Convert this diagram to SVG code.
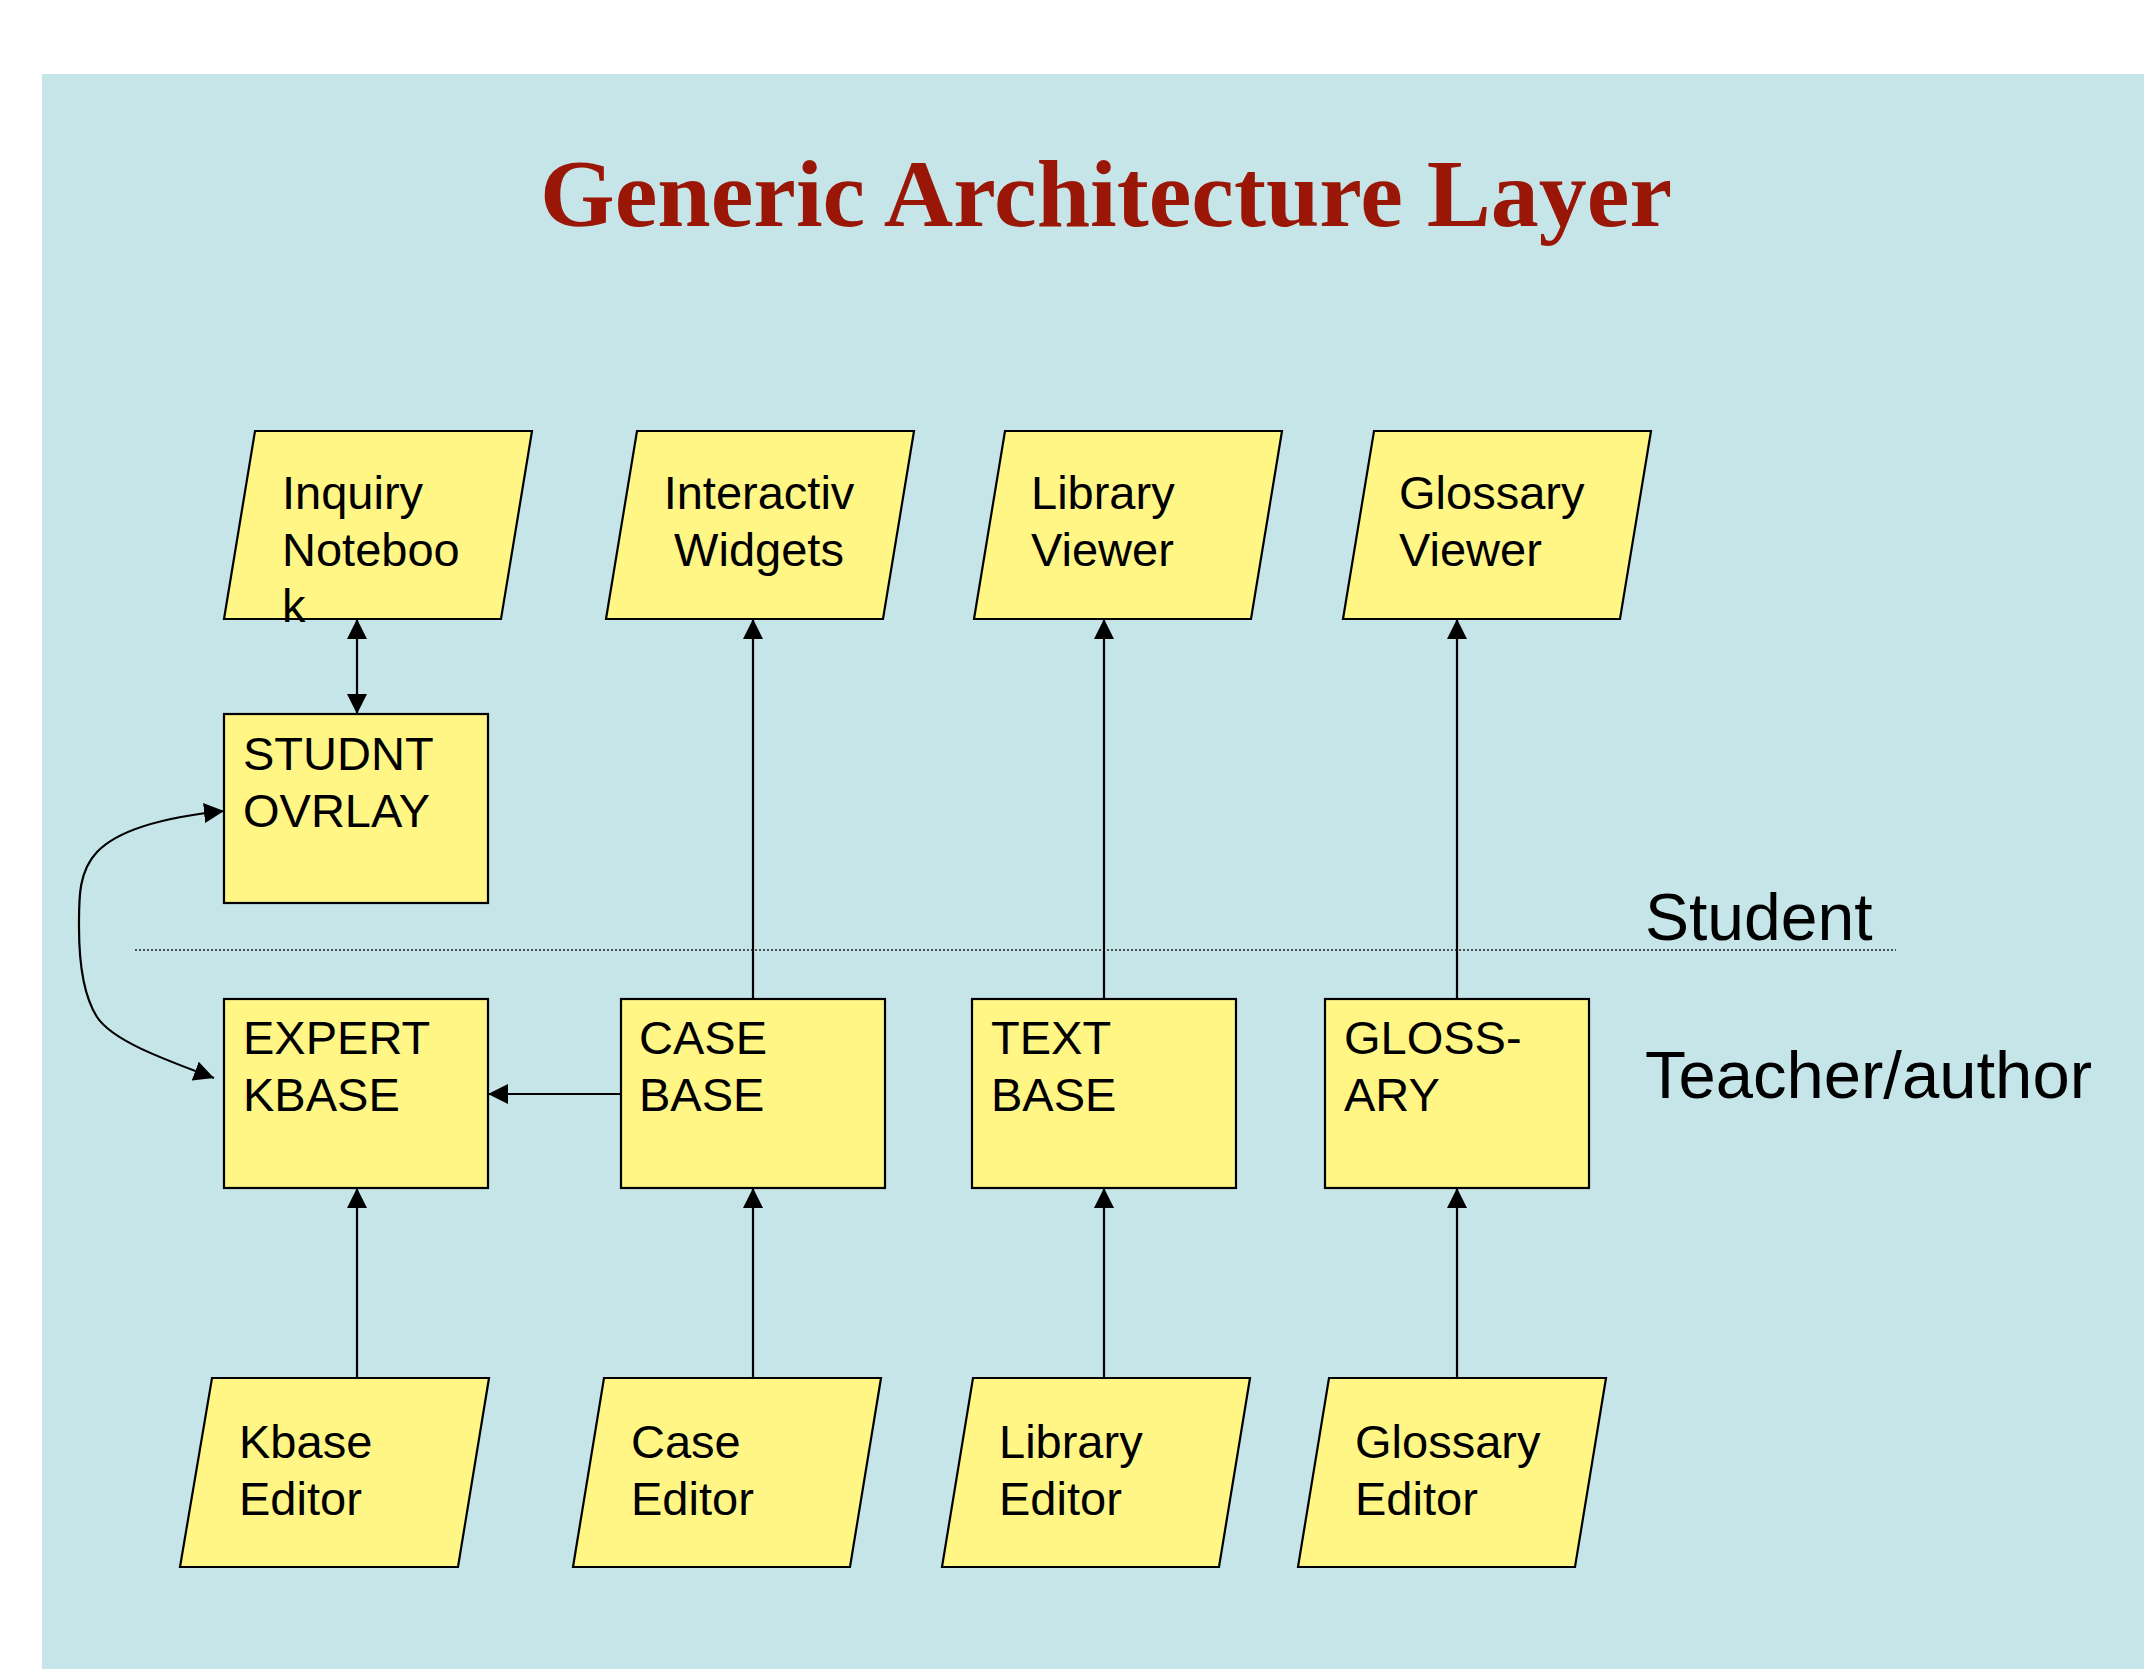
<svg xmlns="http://www.w3.org/2000/svg" width="2144" height="1669" viewBox="0 0 2144 1669">
<defs>
<style>
.node{fill:#FFF685;stroke:#000;stroke-width:2.2}
.t{font-family:"Liberation Sans",Arial,sans-serif;font-size:47px;fill:#000}
.lbl{font-family:"Liberation Sans",Arial,sans-serif;font-size:66px;fill:#000}
.lbl2{font-family:"Liberation Sans",Arial,sans-serif;font-size:67px;fill:#000}
.c{fill:none;stroke:#000;stroke-width:2.2}
</style>
<marker id="ah" markerUnits="userSpaceOnUse" markerWidth="20" markerHeight="20" viewBox="0 0 20 20" refX="20" refY="10" orient="auto-start-reverse">
<path d="M0,0 L20,10 L0,20 z" fill="#000"/>
</marker>
</defs>
<rect x="0" y="0" width="2144" height="1669" fill="#FFFFFF"/>
<rect x="42" y="74" width="2102" height="1595" fill="#C6E5E8"/>
<text x="1106" y="226" text-anchor="middle" font-family="'Liberation Serif','Times New Roman',serif" font-weight="bold" font-size="96" fill="#9A1606">Generic Architecture Layer</text>
<line x1="135" y1="950" x2="1896" y2="950" stroke="#222" stroke-width="1.5" stroke-dasharray="2,2"/>
<text class="lbl" x="1645" y="940">Student</text>
<text class="lbl2" x="1645" y="1098">Teacher/author</text>

<g id="connectors">
<line class="c" x1="357" y1="619" x2="357" y2="714" marker-start="url(#ah)" marker-end="url(#ah)"/>
<line class="c" x1="753" y1="999" x2="753" y2="619" marker-end="url(#ah)"/>
<line class="c" x1="1104" y1="999" x2="1104" y2="619" marker-end="url(#ah)"/>
<line class="c" x1="1457" y1="999" x2="1457" y2="619" marker-end="url(#ah)"/>
<line class="c" x1="621" y1="1094" x2="488" y2="1094" marker-end="url(#ah)"/>
<line class="c" x1="357" y1="1378" x2="357" y2="1188" marker-end="url(#ah)"/>
<line class="c" x1="753" y1="1378" x2="753" y2="1188" marker-end="url(#ah)"/>
<line class="c" x1="1104" y1="1378" x2="1104" y2="1188" marker-end="url(#ah)"/>
<line class="c" x1="1457" y1="1378" x2="1457" y2="1188" marker-end="url(#ah)"/>
<path class="c" d="M224,811 C165,817 118,830 97,852 C78,872 79,900 79,927 C79,960 83,995 97,1017 C112,1040 160,1058 214,1078" marker-start="url(#ah)" marker-end="url(#ah)"/>
</g>

<g id="inquiry-notebook">
<polygon class="node" points="255,431 532,431 501,619 224,619"/>
<text class="t" x="282" y="509">Inquiry</text>
<text class="t" x="282" y="566">Noteboo</text>
<text class="t" x="282" y="622">k</text>
</g>
<g id="interactiv-widgets">
<polygon class="node" points="637,431 914,431 883,619 606,619"/>
<text class="t" x="759" y="509" text-anchor="middle">Interactiv</text>
<text class="t" x="759" y="566" text-anchor="middle">Widgets</text>
</g>
<g id="library-viewer">
<polygon class="node" points="1005,431 1282,431 1251,619 974,619"/>
<text class="t" x="1031" y="509">Library</text>
<text class="t" x="1031" y="566">Viewer</text>
</g>
<g id="glossary-viewer">
<polygon class="node" points="1374,431 1651,431 1620,619 1343,619"/>
<text class="t" x="1399" y="509">Glossary</text>
<text class="t" x="1399" y="566">Viewer</text>
</g>

<g id="studnt-ovrlay">
<rect class="node" x="224" y="714" width="264" height="189"/>
<text class="t" x="243" y="770">STUDNT</text>
<text class="t" x="243" y="827">OVRLAY</text>
</g>
<g id="expert-kbase">
<rect class="node" x="224" y="999" width="264" height="189"/>
<text class="t" x="243" y="1054">EXPERT</text>
<text class="t" x="243" y="1111">KBASE</text>
</g>
<g id="case-base">
<rect class="node" x="621" y="999" width="264" height="189"/>
<text class="t" x="639" y="1054">CASE</text>
<text class="t" x="639" y="1111">BASE</text>
</g>
<g id="text-base">
<rect class="node" x="972" y="999" width="264" height="189"/>
<text class="t" x="991" y="1054">TEXT</text>
<text class="t" x="991" y="1111">BASE</text>
</g>
<g id="glossary">
<rect class="node" x="1325" y="999" width="264" height="189"/>
<text class="t" x="1344" y="1054">GLOSS-</text>
<text class="t" x="1344" y="1111">ARY</text>
</g>

<g id="kbase-editor">
<polygon class="node" points="212,1378 489,1378 458,1567 180,1567"/>
<text class="t" x="239" y="1458">Kbase</text>
<text class="t" x="239" y="1515">Editor</text>
</g>
<g id="case-editor">
<polygon class="node" points="604,1378 881,1378 850,1567 573,1567"/>
<text class="t" x="631" y="1458">Case</text>
<text class="t" x="631" y="1515">Editor</text>
</g>
<g id="library-editor">
<polygon class="node" points="973,1378 1250,1378 1219,1567 942,1567"/>
<text class="t" x="999" y="1458">Library</text>
<text class="t" x="999" y="1515">Editor</text>
</g>
<g id="glossary-editor">
<polygon class="node" points="1329,1378 1606,1378 1575,1567 1298,1567"/>
<text class="t" x="1355" y="1458">Glossary</text>
<text class="t" x="1355" y="1515">Editor</text>
</g>
</svg>
